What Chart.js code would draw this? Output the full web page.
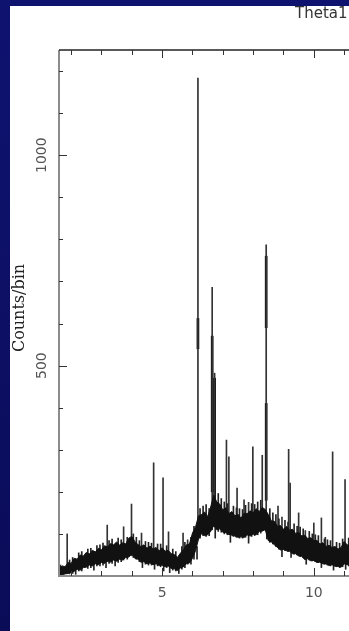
<!DOCTYPE html>
<html>
<head>
<meta charset="utf-8">
<title>Theta1</title>
<script src="https://cdn.jsdelivr.net/npm/chart.js@4.4.1/dist/chart.umd.min.js"></script>
<style>
  html, body { margin: 0; padding: 0; background: #0d1166; }
  canvas { display: block; }
</style>
</head>
<body>
<canvas id="spectrum" width="349" height="631"></canvas>
<script>
// energy bins (keV) for the continuum band
const energy = [
  1.6, 1.7, 1.8, 1.9, 2.0, 2.1, 2.2, 2.3, 2.4, 2.5, 2.6, 2.7, 2.8, 2.9, 3.0, 3.1,
  3.2, 3.3, 3.4, 3.5, 3.6, 3.7, 3.8, 3.9, 4.0, 4.1, 4.2, 4.3, 4.4, 4.5, 4.6, 4.7,
  4.8, 4.9, 5.0, 5.1, 5.2, 5.3, 5.4, 5.5, 5.6, 5.7, 5.8, 5.9, 6.0, 6.1, 6.2, 6.3,
  6.4, 6.5, 6.6, 6.7, 6.8, 6.9, 7.0, 7.1, 7.2, 7.3, 7.4, 7.5, 7.6, 7.7, 7.8, 7.9,
  8.0, 8.1, 8.2, 8.3, 8.4, 8.5, 8.6, 8.7, 8.8, 8.9, 9.0, 9.1, 9.2, 9.3, 9.4, 9.5,
  9.6, 9.7, 9.8, 9.9, 10.0, 10.1, 10.2, 10.3, 10.4, 10.5, 10.6, 10.7, 10.8, 10.9,
  11.0, 11.1, 11.2
];
// upper / lower edge of the noisy counts band
const bandHigh = [
  16, 24, 22, 32, 30, 42, 40, 50, 47, 56, 52, 61, 57, 66, 62, 72,
  69, 77, 74, 81, 73, 79, 76, 90, 94, 82, 75, 70, 74, 66, 71, 64,
  68, 60, 67, 59, 61, 53, 51, 44, 54, 62, 74, 76, 102, 116, 143, 146,
  152, 141, 164, 192, 176, 171, 157, 162, 148, 153, 143, 147, 137, 149, 148, 155,
  150, 160, 153, 163, 158, 146, 131, 130, 118, 120, 111, 118, 109, 111, 101, 104,
  95, 97, 89, 91, 84, 85, 76, 79, 70, 73, 68, 70, 64, 68,
  82, 74, 72
];
const bandLow = [
  2, 3, 5, 6, 9, 11, 16, 14, 20, 21, 26, 24, 29, 27, 32, 30,
  36, 33, 38, 35, 40, 38, 44, 45, 52, 42, 40, 33, 34, 29, 31, 27,
  29, 25, 26, 22, 24, 18, 17, 13, 19, 22, 29, 31, 42, 60, 88, 101,
  96, 98, 106, 120, 110, 112, 104, 103, 99, 97, 95, 92, 93, 92, 98, 95,
  100, 98, 106, 107, 110, 84, 81, 74, 68, 62, 63, 60, 59, 53, 53, 48,
  47, 39, 41, 36, 37, 32, 33, 29, 29, 25, 27, 23, 23, 21,
  29, 27, 26
];

// single noisy bins sticking out of the band
const noiseEnergy = [
  1.65, 1.95, 2.05, 2.25, 2.35, 2.55, 2.65, 2.85, 2.95, 3.05, 3.25, 3.35, 3.55, 3.65, 3.85,
  4.05, 4.15, 4.25, 4.45, 4.55, 4.65, 4.85, 4.95, 5.15, 5.35, 5.45, 5.65, 5.75, 5.95, 6.05,
  6.25, 6.35, 6.45, 6.55, 6.85, 6.95, 7.05, 7.15, 7.35, 7.45, 7.55, 7.65, 7.75, 7.95, 8.05,
  8.15, 8.25, 8.55, 8.65, 8.75, 8.85, 9.05, 9.15, 9.35, 9.45, 9.55, 9.65, 9.85, 9.95, 10.05,
  10.15, 10.35, 10.45, 10.55, 10.75, 10.85, 10.95, 11.15,
  2.15, 2.75, 3.15, 3.45, 4.35, 4.75, 5.05, 5.25, 5.55, 6.15, 6.75, 7.25, 7.85, 8.45, 8.95,
  9.25, 9.75, 10.25, 10.65, 11.05
];
const noiseFrom = [
  2, 5, 6, 12, 12, 18, 20, 24, 24, 26, 30, 30, 32, 34, 40,
  44, 40, 34, 28, 26, 26, 24, 22, 20, 14, 12, 16, 20, 28, 40,
  90, 96, 94, 96, 106, 104, 100, 98, 94, 92, 90, 90, 92, 94, 96,
  98, 102, 80, 76, 70, 64, 60, 58, 52, 50, 46, 44, 38, 36, 34,
  32, 28, 26, 24, 22, 20, 22, 24,
  4, 14, 20, 24, 20, 16, 12, 8, 6, 40, 90, 80, 78, 88, 46,
  44, 28, 20, 14, 16
];
const noiseTo = [
  26, 38, 44, 55, 58, 64, 66, 72, 74, 78, 84, 88, 90, 86, 92,
  100, 92, 84, 82, 80, 78, 76, 76, 72, 64, 58, 70, 80, 92, 118,
  160, 166, 170, 160, 196, 184, 176, 172, 166, 162, 160, 158, 168, 172, 170,
  176, 180, 160, 150, 146, 136, 132, 128, 124, 118, 116, 112, 106, 100, 98,
  96, 88, 86, 84, 80, 78, 88, 90,
  20, 30, 36, 40, 36, 30, 28, 24, 20, 70, 120, 100, 98, 110, 64,
  60, 42, 34, 28, 30
];

// emission lines: energy, counts at the foot, counts at the top
const lineEnergy = [1.87, 3.19, 3.73, 3.99, 4.32, 4.72, 5.03, 5.21, 5.69, 5.84, 6.18, 6.65, 6.73, 7.12, 7.20,
  7.47, 7.70, 7.85, 7.99, 8.30, 8.43, 8.82, 8.95, 9.17, 9.22, 9.50, 9.72, 10.00, 10.25, 10.38, 10.62, 11.03];
const lineFoot = [6, 34, 38, 48, 33, 27, 25, 24, 22, 28, 88, 110, 118, 103, 99,
  94, 92, 96, 99, 107, 110, 68, 62, 60, 59, 48, 40, 37, 31, 29, 27, 29];
const lineTop = [100, 121, 117, 171, 102, 269, 233, 105, 102, 86, 1183, 686, 482, 323, 283,
  209, 181, 175, 307, 287, 787, 166, 140, 301, 221, 150, 108, 126, 138, 92, 295, 229];

// darker, wider parts of the strongest lines
const coreEnergy = [6.18, 6.65, 6.73, 8.43, 8.43];
const coreFrom = [540, 200, 118, 590, 180];
const coreTo = [612, 570, 470, 760, 410];

const xTicks = [2, 3, 4, 5, 6, 7, 8, 9, 10, 11];
const xTickLabels = [5, 10];
const yTicks = [100, 200, 300, 400, 500, 600, 700, 800, 900, 1000, 1100, 1200];
const yTickLabels = [500, 1000];

const frame = {
  id: "frame",
  beforeDraw(chart) {
    const ctx = chart.ctx;
    const g = ctx.createLinearGradient(0, 0, 0, chart.height);
    g.addColorStop(0, "#0f1370");
    g.addColorStop(1, "#0a0c58");
    ctx.save();
    ctx.fillStyle = g;
    ctx.fillRect(0, 0, chart.width, chart.height);
    ctx.fillStyle = "#ffffff";
    ctx.fillRect(10, 6, chart.width - 10, chart.height - 6);
    ctx.restore();
  },
  afterDraw(chart) {
    const { ctx, chartArea: a } = chart;
    const x = chart.scales.x;
    const y = chart.scales.y;
    ctx.save();

    // axes
    ctx.strokeStyle = "#8c8c8c";
    ctx.lineWidth = 2;
    ctx.beginPath();
    ctx.moveTo(a.left, a.top);
    ctx.lineTo(a.left, a.bottom);
    ctx.lineTo(a.right, a.bottom);
    ctx.stroke();
    ctx.strokeStyle = "#222";
    ctx.lineWidth = 1.5;
    ctx.beginPath();
    ctx.moveTo(a.left, a.top);
    ctx.lineTo(a.right, a.top);
    ctx.stroke();

    // inward ticks
    ctx.strokeStyle = "#333";
    ctx.lineWidth = 1;
    ctx.beginPath();
    yTicks.forEach((v) => {
      const py = Math.round(y.getPixelForValue(v)) + 0.5;
      const len = yTickLabels.includes(v) ? 8 : 4;
      ctx.moveTo(a.left, py);
      ctx.lineTo(a.left + len, py);
    });
    xTicks.forEach((e) => {
      const px = Math.round(x.getPixelForValue(e)) + 0.5;
      const len = xTickLabels.includes(e) ? 8 : 5;
      ctx.moveTo(px, a.bottom);
      ctx.lineTo(px, a.bottom - len);
      ctx.moveTo(px, a.top);
      ctx.lineTo(px, a.top + len);
    });
    ctx.stroke();

    // tick labels
    ctx.fillStyle = "#555";
    ctx.font = "14px 'DejaVu Sans'";
    ctx.textAlign = "center";
    ctx.textBaseline = "middle";
    xTickLabels.forEach((e) => {
      ctx.fillText(String(e), x.getPixelForValue(e), a.bottom + 17);
    });
    yTickLabels.forEach((v) => {
      ctx.save();
      ctx.translate(a.left - 17, y.getPixelForValue(v));
      ctx.rotate(-Math.PI / 2);
      ctx.fillText(String(v), 0, 0);
      ctx.restore();
    });

    // axis title
    ctx.save();
    ctx.fillStyle = "#222";
    ctx.font = "16px 'DejaVu Serif'";
    ctx.translate(20, 308);
    ctx.rotate(-Math.PI / 2);
    ctx.fillText("Counts/bin", 0, 0);
    ctx.restore();

    // panel title
    ctx.fillStyle = "#333";
    ctx.font = "15px 'DejaVu Sans'";
    ctx.textAlign = "left";
    ctx.textBaseline = "alphabetic";
    ctx.fillText("Theta1", 295, 18);
    ctx.restore();
  }
};

new Chart(document.getElementById("spectrum"), {
  type: "bar",
  data: {
    datasets: [
      {
        type: "line",
        label: "band low",
        data: energy.map((e, i) => ({ x: e, y: bandLow[i] })),
        borderColor: "#111",
        borderWidth: 1,
        pointRadius: 0,
        fill: false,
      },
      {
        type: "line",
        label: "band high",
        data: energy.map((e, i) => ({ x: e, y: bandHigh[i] })),
        borderColor: "#111",
        borderWidth: 1,
        backgroundColor: "#111",
        pointRadius: 0,
        fill: "-1",
      },
      {
        label: "noise",
        data: noiseEnergy.map((e, i) => ({ x: e, y: [noiseFrom[i], noiseTo[i]] })),
        backgroundColor: "#222",
        barThickness: 1,
        grouped: false,
      },
      {
        label: "lines",
        data: lineEnergy.map((e, i) => ({ x: e, y: [lineFoot[i], lineTop[i]] })),
        backgroundColor: "#333",
        barThickness: 1,
        grouped: false,
      },
      {
        label: "cores",
        data: coreEnergy.map((e, i) => ({ x: e, y: [coreFrom[i], coreTo[i]] })),
        backgroundColor: "#000",
        barThickness: 2,
        grouped: false,
      },
    ],
  },
  options: {
    responsive: false,
    animation: false,
    devicePixelRatio: 1,
    events: [],
    layout: { padding: { left: 59, top: 50, right: 0, bottom: 55 } },
    plugins: { legend: { display: false }, tooltip: { enabled: false } },
    scales: {
      x: { type: "linear", min: 1.6, max: 11.16, offset: false, display: false },
      y: { min: 0, max: 1250, display: false },
    },
  },
  plugins: [frame],
});
</script>
</body>
</html>
